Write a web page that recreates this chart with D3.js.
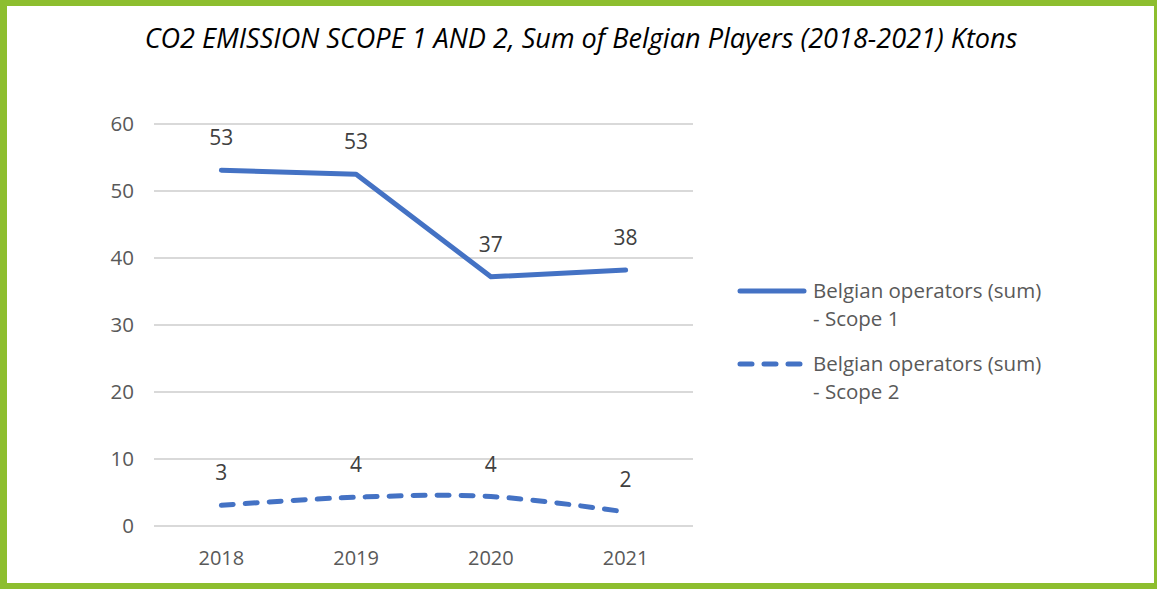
<!DOCTYPE html>
<html>
<head>
<meta charset="utf-8">
<script src="https://cdn.jsdelivr.net/npm/d3@7"></script>
<style>
  html, body { margin: 0; padding: 0; background: #fff; }
  svg { display: block; }
  text { font-family: "Open Sans", "Noto Sans", sans-serif; }
</style>
</head>
<body>
<svg id="chart" width="1157" height="589"></svg>
<script>
// Yearly totals (ktons CO2)
const years = ["2018", "2019", "2020", "2021"];
const scope1 = [53.1, 52.5, 37.2, 38.2];
const scope2 = [3.1, 4.3, 4.4, 2.1];
const seriesNames = ["Belgian operators (sum) - Scope 1", "Belgian operators (sum) - Scope 2"];
const yTicks = [0, 10, 20, 30, 40, 50, 60];
const titleText = "CO2 EMISSION SCOPE 1 AND 2, Sum of Belgian Players (2018-2021) Ktons";

const W = 1157, H = 589;
const svg = d3.select("#chart");
const blue = "#4472C4";
const green = "#8DBE2F";

// Frame
svg.append("rect").attr("x", 0).attr("y", 0).attr("width", W).attr("height", H).attr("fill", green);
svg.append("rect").attr("x", 7).attr("y", 6).attr("width", W - 7 - 3).attr("height", H - 6 - 6).attr("fill", "#fff");

// Title, fitted to its width
const title = svg.append("text")
  .attr("x", 581).attr("y", 48)
  .attr("text-anchor", "middle")
  .attr("font-style", "italic")
  .attr("font-size", 22)
  .attr("fill", "#000")
  .text(titleText);
const tw = title.node().getComputedTextLength();
title.attr("font-size", 22 * 873 / tw);

// Scales
const x = d3.scaleBand().domain(years).range([154, 693]);
const cx = d => x(d) + x.bandwidth() / 2;
const y = d3.scaleLinear().domain([0, 60]).range([526, 124]);

// Gridlines
svg.append("g").selectAll("line").data(yTicks).join("line")
  .attr("x1", 154).attr("x2", 693)
  .attr("y1", d => y(d)).attr("y2", d => y(d))
  .attr("stroke", "#d9d9d9").attr("stroke-width", 2);

// Y axis labels
const yAxis = svg.append("g").attr("transform", "translate(134,0)")
  .call(d3.axisLeft(y).tickValues(yTicks).tickSize(0).tickPadding(0));
yAxis.select(".domain").remove();
yAxis.selectAll("text").attr("font-size", 20.5).attr("fill", "#595959")
  .attr("font-family", "'Open Sans', sans-serif");

// X axis labels
const xAxis = svg.append("g").attr("transform", "translate(0,565)")
  .call(d3.axisBottom(x).tickSize(0).tickPadding(0));
xAxis.select(".domain").remove();
xAxis.selectAll("text").attr("font-size", 20).attr("fill", "#595959").attr("dy", 0)
  .attr("font-family", "'Open Sans', sans-serif");

// Lines
const pts1 = years.map((d, i) => [cx(d), y(scope1[i])]);
const pts2 = years.map((d, i) => [cx(d), y(scope2[i])]);

svg.append("path")
  .attr("d", d3.line()(pts1))
  .attr("fill", "none").attr("stroke", blue).attr("stroke-width", 5)
  .attr("stroke-linecap", "round").attr("stroke-linejoin", "round");

svg.append("path")
  .attr("d", d3.line().curve(d3.curveCatmullRom.alpha(0))(pts2))
  .attr("fill", "none").attr("stroke", blue).attr("stroke-width", 5)
  .attr("stroke-linecap", "round").attr("stroke-dasharray", "12,12");

// Data labels
function labels(vals) {
  svg.append("g").selectAll("text").data(vals).join("text")
    .attr("x", (d, i) => cx(years[i]))
    .attr("y", d => y(d) - 25)
    .attr("text-anchor", "middle")
    .attr("font-size", 21).attr("fill", "#404040")
    .text(d => Math.round(d));
}
labels(scope1);
labels(scope2);

// Legend
const legend = [
  { y: 291, dash: null },
  { y: 364, dash: "12,12" }
];
legend.forEach((l, i) => {
  svg.append("line")
    .attr("x1", 740).attr("x2", 804).attr("y1", l.y).attr("y2", l.y)
    .attr("stroke", blue).attr("stroke-width", 5).attr("stroke-linecap", "round")
    .attr("stroke-dasharray", l.dash);
  const parts = seriesNames[i].split(" - ");
  const t = svg.append("text").attr("x", 813).attr("y", l.y + 7)
    .attr("font-size", 20.5).attr("fill", "#595959");
  t.append("tspan").attr("x", 813).text(parts[0]);
  t.append("tspan").attr("x", 813).attr("dy", 28).text("- " + parts[1]);
});
</script>
</body>
</html>
